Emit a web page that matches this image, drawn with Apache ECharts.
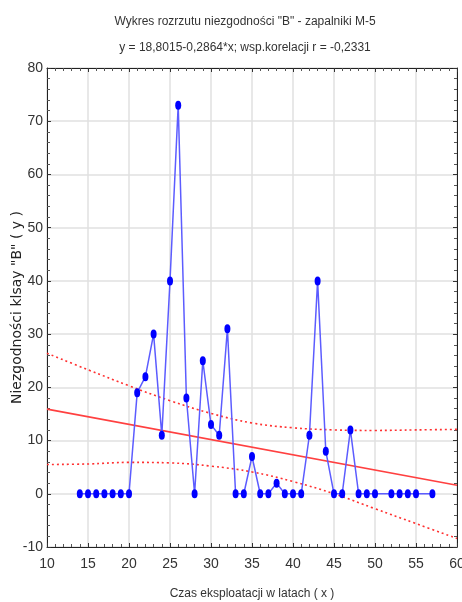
<!DOCTYPE html>
<html>
<head>
<meta charset="utf-8">
<script src="https://cdn.jsdelivr.net/npm/echarts@6/dist/echarts.min.js"></script>
<style>
  html, body { margin: 0; padding: 0; background: #fff; }
  #chart { width: 462px; height: 602px; }
</style>
</head>
<body>
<div id="chart"></div>
<script>
// lata eksploatacji (x) i liczba niezgodnosci (y)
var years = [14, 15, 16, 17, 18, 19, 20, 21, 22, 23, 24, 25, 26, 27, 28, 29, 30, 31, 32, 33, 34,
  35, 36, 37, 38, 39, 40, 41, 42, 43, 44, 45, 46, 47, 48, 49, 50, 52, 53, 54, 55, 57];
var defects = [0, 0, 0, 0, 0, 0, 0, 19, 22, 30, 11, 40, 73, 18, 0, 25, 13, 11, 31, 0, 0,
  7, 0, 0, 2, 0, 0, 0, 11, 40, 8, 0, 0, 12, 0, 0, 0, 0, 0, 0, 0, 0];

// prosta regresji, odczytana na krawedziach wykresu
var fitX = [10, 60];
var fitY = [15.9, 1.6];

// przedzialy ufnosci (linie kropkowane)
var bandX = [10, 15, 20, 25, 30, 35, 40, 45, 50, 55, 60];
var bandUpper = [26.4, 23.3, 20.3, 17.5, 15.1, 13.3, 12.4, 12.0, 11.9, 12.0, 12.1];
var bandLower = [5.5, 5.6, 5.9, 5.8, 5.2, 4.1, 2.3, 0.0, -2.8, -5.6, -8.4];

var xTicks = { min: 10, max: 60, interval: 5 };
var yTicks = { min: -10, max: 80, interval: 10 };

var FONT = "'Liberation Sans Narrow', 'Arial Narrow', 'Liberation Sans', sans-serif";

function pairs(xs, ys) {
  return xs.map(function (x, i) { return [x, ys[i]]; });
}

var chart = echarts.init(document.getElementById("chart"));

var axisLine = { show: true, onZero: false, lineStyle: { color: "#222", width: 1 } };
var tickIn = { show: true, inside: true, length: 4, lineStyle: { color: "#333" } };
var minorIn = { show: true, splitNumber: 5, length: 3, lineStyle: { color: "#555" } };

var option = {
  animation: false,
  backgroundColor: "#fff",
  title: {
    text: 'Wykres rozrzutu niezgodności "B" - zapalniki M-5\ny = 18,8015-0,2864*x; wsp.korelacji r = -0,2331',
    left: 240,
    textAlign: "center",
    top: 4,
    textStyle: {
      fontFamily: FONT,
      fontSize: 12,
      fontWeight: "normal",
      color: "#333",
      lineHeight: 26,
    },
  },
  grid: { left: 47, right: 5, top: 68, bottom: 55, outerBoundsMode: "none" },
  xAxis: [
    {
      type: "value",
      min: xTicks.min,
      max: xTicks.max,
      interval: xTicks.interval,
      name: "Czas eksploatacji w latach ( x )",
      nameLocation: "middle",
      nameGap: 41,
      nameMoveOverlap: false,
      nameTextStyle: { fontFamily: FONT, fontSize: 12, color: "#333" },
      axisLine: axisLine,
      axisTick: tickIn,
      minorTick: minorIn,
      axisLabel: { fontFamily: FONT, fontSize: 14, color: "#333", margin: 10 },
      splitLine: { show: true, lineStyle: { color: "#e0e0e0", width: 1.5 } },
    },
    {
      type: "value",
      position: "top",
      min: xTicks.min,
      max: xTicks.max,
      interval: xTicks.interval,
      axisLine: axisLine,
      axisTick: tickIn,
      minorTick: minorIn,
      axisLabel: { show: false },
      splitLine: { show: false },
    },
  ],
  yAxis: [
    {
      type: "value",
      min: yTicks.min,
      max: yTicks.max,
      interval: yTicks.interval,
      name: 'Niezgodności klsay "B" ( y )',
      nameLocation: "middle",
      nameGap: 30,
      nameMoveOverlap: false,
      nameTextStyle: {
        fontFamily: "'DejaVu Sans', sans-serif",
        fontSize: 14,
        color: "#222",
        verticalAlign: "middle",
      },
      axisLine: axisLine,
      axisTick: tickIn,
      minorTick: minorIn,
      axisLabel: { fontFamily: FONT, fontSize: 14, color: "#333", margin: 4 },
      splitLine: { show: true, lineStyle: { color: "#e0e0e0", width: 1.5 } },
    },
    {
      type: "value",
      position: "right",
      min: yTicks.min,
      max: yTicks.max,
      interval: yTicks.interval,
      axisLine: axisLine,
      axisTick: tickIn,
      minorTick: minorIn,
      axisLabel: { show: false },
      splitLine: { show: false },
    },
  ],
  series: [
    {
      name: "upper",
      type: "line",
      data: pairs(bandX, bandUpper),
      smooth: 0.4,
      symbol: "none",
      lineStyle: { color: "#ff3030", width: 1.6, type: [2, 3] },
      z: 2,
    },
    {
      name: "lower",
      type: "line",
      data: pairs(bandX, bandLower),
      smooth: 0.4,
      symbol: "none",
      lineStyle: { color: "#ff3030", width: 1.6, type: [2, 3] },
      z: 2,
    },
    {
      name: "fit",
      type: "line",
      data: pairs(fitX, fitY),
      symbol: "none",
      lineStyle: { color: "#ff4040", width: 1.6 },
      z: 3,
    },
    {
      name: "B",
      type: "line",
      data: pairs(years, defects),
      symbol: "circle",
      symbolSize: [6, 9],
      itemStyle: { color: "#0000ff" },
      lineStyle: { color: "#5c5cff", width: 1.5 },
      z: 4,
    },
  ],
};

option && chart.setOption(option);
</script>
</body>
</html>
